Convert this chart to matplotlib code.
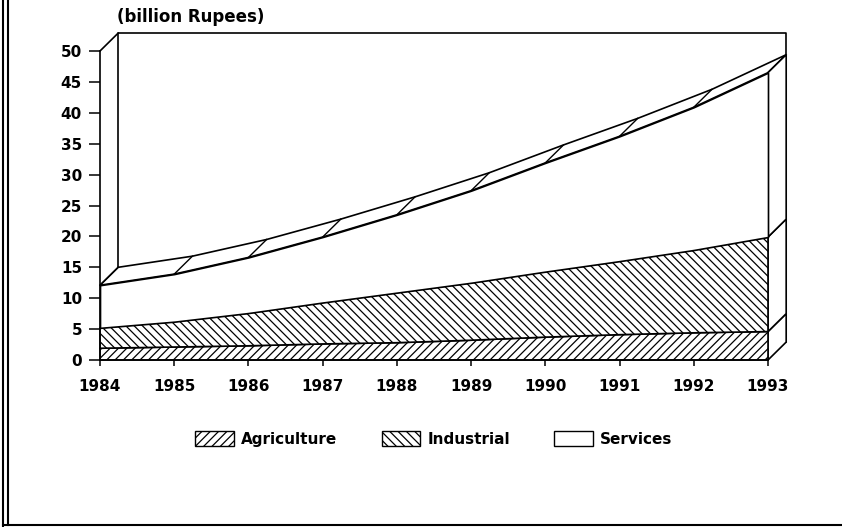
import numpy as np
import matplotlib
matplotlib.use("Agg")
import matplotlib.pyplot as plt
from matplotlib.patches import Polygon, Patch
from matplotlib.lines import Line2D

plt.rcParams['hatch.linewidth'] = 0.9
plt.rcParams['font.family'] = 'DejaVu Sans'

years = [1984, 1985, 1986, 1987, 1988, 1989, 1990, 1991, 1992, 1993]
# stacked (cumulative) values, billion Rupees
agriculture = [1.9, 2.1, 2.3, 2.6, 2.8, 3.2, 3.7, 4.1, 4.4, 4.6]
industrial = [5.2, 6.2, 7.6, 9.3, 10.9, 12.5, 14.3, 16.0, 17.8, 19.9]
services = [12.1, 13.9, 16.6, 19.9, 23.5, 27.4, 31.9, 36.2, 40.9, 46.5]
legend_labels = ['Agriculture', 'Industrial', 'Services']
y_ticks = list(range(0, 55, 5))

x = np.array(years, dtype=float)
agr = np.array(agriculture)
ind = np.array(industrial)
svc = np.array(services)
dx, dy = 0.245, 2.9   # depth offset of the 3D box

fig = plt.figure(figsize=(8.42, 5.27), dpi=100)
ax = fig.add_axes([100/842, 167/527, 668/842, 309/527])
ax.set_xlim(1984, 1993)
ax.set_ylim(0, 50)
ax.set_facecolor('none')

lw = 1.2
# back wall of the box
ax.plot([1984 + dx, 1984 + dx, 1993 + dx, 1993 + dx], [dy, 50 + dy, 50 + dy, dy],
        color='black', lw=lw, clip_on=False, zorder=1)
ax.plot([1984, 1984 + dx], [50, 50 + dy], color='black', lw=lw, clip_on=False, zorder=1)

# front faces
ax.fill_between(x, 0, agr, facecolor='white', edgecolor='black', hatch='////',
                lw=lw, zorder=3, clip_on=False)
ax.fill_between(x, agr, ind, facecolor='white', edgecolor='black', hatch='\\\\\\\\',
                lw=lw, zorder=3, clip_on=False)
ax.fill_between(x, ind, svc, facecolor='white', edgecolor='black',
                lw=lw, zorder=3, clip_on=False)

# top surface of services
top = np.concatenate([np.column_stack([x, svc]),
                      np.column_stack([x[::-1] + dx, svc[::-1] + dy])])
ax.add_patch(Polygon(top, closed=True, facecolor='white', edgecolor='black',
                     lw=lw, zorder=2, clip_on=False))
for xi, si in zip(x, svc):
    ax.plot([xi, xi + dx], [si, si + dy], color='black', lw=1.0, zorder=2, clip_on=False)

# right side faces at 1993
levels = [0, agr[-1], ind[-1], svc[-1]]
for lo, hi in zip(levels[:-1], levels[1:]):
    side = [[1993, lo], [1993 + dx, lo + dy], [1993 + dx, hi + dy], [1993, hi]]
    ax.add_patch(Polygon(side, closed=True, facecolor='white', edgecolor='black',
                         lw=lw, zorder=2, clip_on=False))

# axes
for s in ['top', 'right']:
    ax.spines[s].set_visible(False)
ax.spines['left'].set_linewidth(lw)
ax.spines['bottom'].set_linewidth(lw)
ax.spines['left'].set_zorder(4)
ax.spines['bottom'].set_zorder(4)
ax.set_xticks(years)
ax.set_xticklabels([str(y) for y in years], fontsize=11, fontweight='bold')
ax.set_yticks(y_ticks)
ax.set_yticklabels([str(v) for v in y_ticks], fontsize=11, fontweight='bold')
ax.tick_params(axis='y', direction='out', length=8, width=1.1, pad=5)
ax.tick_params(axis='x', direction='out', length=4, width=1.1, pad=10)

fig.text(117/842, 1 - 17/527, '(billion Rupees)', fontsize=12, fontweight='bold',
         ha='left', va='center')

handles = [Patch(facecolor='white', edgecolor='black', hatch='////', lw=1.0),
           Patch(facecolor='white', edgecolor='black', hatch='\\\\\\\\', lw=1.0),
           Patch(facecolor='white', edgecolor='black', lw=1.0)]
fig.legend(handles, legend_labels, loc='center', bbox_to_anchor=(434/842, 1 - 439/527),
           ncol=3, frameon=False, prop={'size': 11, 'weight': 'bold'},
           handlelength=2.5, handleheight=1.1, handletextpad=0.5, columnspacing=2.9)

# page border
fig.add_artist(Line2D([3/842, 3/842], [0, 1], color='black', lw=1.5))
fig.add_artist(Line2D([7.5/842, 7.5/842], [2/527, 1], color='black', lw=1.5))
fig.add_artist(Line2D([3/842, 1], [2/527, 2/527], color='black', lw=1.5))

fig.savefig('out.png', dpi=100)
